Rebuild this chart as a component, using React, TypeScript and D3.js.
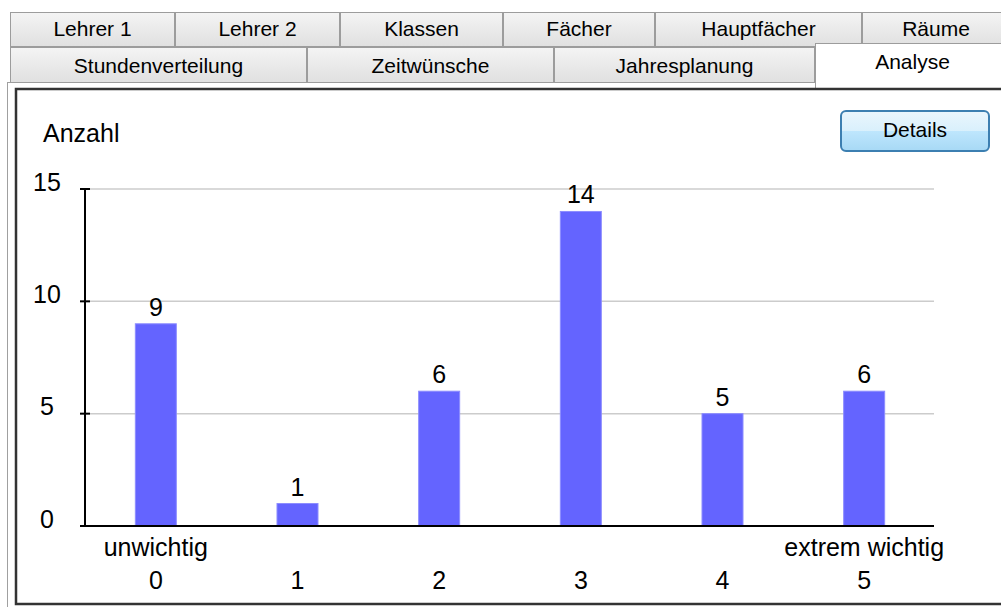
import * as d3 from 'd3'
import { useEffect, useRef } from "react";

// chart data
const ratings = ["0", "1", "2", "3", "4", "5"];
const ratingNames = ["unwichtig", "", "", "", "", "extrem wichtig"];
const counts = [9, 1, 6, 14, 5, 6];
const yTicks = [0, 5, 10, 15];

// window chrome
const tabsTop = ["Lehrer 1", "Lehrer 2", "Klassen", "Fächer", "Hauptfächer", "Räume"];
const tabsBottom = ["Stundenverteilung", "Zeitwünsche", "Jahresplanung", "Analyse"];
const topEdges = [10, 175, 340, 503, 655, 862, 1010];
const bottomEdges = [10, 307, 554, 815, 1010];

const FONT = "'Liberation Sans', Arial, sans-serif";

const App = () => {
  const svgRef = useRef(null);

  useEffect(() => {
    const svg = d3.select(svgRef.current);
    svg.selectAll('*').remove();

    const defs = svg.append('defs');
    const tabGrad = defs.append('linearGradient').attr('id', 'tabGrad').attr('x1', 0).attr('y1', 0).attr('x2', 0).attr('y2', 1);
    tabGrad.append('stop').attr('offset', '0%').attr('stop-color', '#f4f4f4');
    tabGrad.append('stop').attr('offset', '100%').attr('stop-color', '#e0e0e0');
    const btnGrad = defs.append('linearGradient').attr('id', 'btnGrad').attr('x1', 0).attr('y1', 0).attr('x2', 0).attr('y2', 1);
    btnGrad.append('stop').attr('offset', '0%').attr('stop-color', '#eaf6fd');
    btnGrad.append('stop').attr('offset', '50%').attr('stop-color', '#d9f0fc');
    btnGrad.append('stop').attr('offset', '51%').attr('stop-color', '#bee6fd');
    btnGrad.append('stop').attr('offset', '100%').attr('stop-color', '#a7d9f5');

    // background
    svg.append('rect').attr('width', 1001).attr('height', 607).attr('fill', '#ffffff');

    // panel (outer grey frame)
    svg.append('rect').attr('x', 7.5).attr('y', 82.5).attr('width', 1010).attr('height', 540)
      .attr('fill', '#ffffff').attr('stroke', '#a0a0a0');

    const tabText = (tx, ty, t) =>
      svg.append('text').attr('x', tx).attr('y', ty).attr('text-anchor', 'middle')
        .attr('dominant-baseline', 'middle').attr('font-family', FONT).attr('font-size', 21).attr('fill', '#000')
        .text(t);

    // tab rows
    tabsTop.forEach((t, i) => {
      const x0 = topEdges[i], x1 = topEdges[i + 1];
      svg.append('rect').attr('x', x0 + 0.5).attr('y', 12.5).attr('width', x1 - x0 - 1).attr('height', 34)
        .attr('fill', 'url(#tabGrad)').attr('stroke', '#9c9c9c');
      tabText((x0 + x1) / 2, 30, t);
    });
    tabsBottom.forEach((t, i) => {
      const x0 = bottomEdges[i], x1 = bottomEdges[i + 1];
      const selected = i === tabsBottom.length - 1;
      if (selected) {
        svg.append('rect').attr('x', x0 + 0.5).attr('y', 43.5).attr('width', x1 - x0).attr('height', 60)
          .attr('fill', '#ffffff').attr('stroke', '#9c9c9c');
        tabText((x0 + x1) / 2, 63, t);
      } else {
        svg.append('rect').attr('x', x0 + 0.5).attr('y', 47.5).attr('width', x1 - x0 - 1).attr('height', 35)
          .attr('fill', 'url(#tabGrad)').attr('stroke', '#9c9c9c');
        tabText((x0 + x1) / 2, 67, t);
      }
    });

    // inner sunken frame
    svg.append('rect').attr('x', 16).attr('y', 89).attr('width', 1000).attr('height', 515)
      .attr('fill', '#ffffff').attr('stroke', '#333333').attr('stroke-width', 2.5);

    // scales
    const x = d3.scaleBand().domain(ratings).range([85, 935]);
    const y = d3.scaleLinear().domain([0, 15]).range([526, 189]);
    const barW = 41;
    const cx = (i) => x(ratings[i]) + x.bandwidth() / 2;

    // grid
    svg.append('g').selectAll('line').data(yTicks.filter(d => d > 0)).enter().append('line')
      .attr('x1', 90).attr('x2', 934).attr('y1', d => y(d)).attr('y2', d => y(d))
      .attr('stroke', '#cccccc').attr('stroke-width', 1.5);

    // bars
    svg.append('g').selectAll('rect').data(counts).enter().append('rect')
      .attr('x', (d, i) => cx(i) - barW / 2)
      .attr('y', d => y(d))
      .attr('width', barW)
      .attr('height', d => y(0) - y(d))
      .attr('fill', '#6464ff')
      .attr('stroke', '#8c8cff').attr('stroke-width', 1);

    // value labels
    svg.append('g').selectAll('text').data(counts).enter().append('text')
      .attr('x', (d, i) => cx(i))
      .attr('y', d => y(d) - 8)
      .attr('text-anchor', 'middle').attr('font-family', FONT).attr('font-size', 25).attr('fill', '#000')
      .text(d => d);

    // axes
    svg.append('line').attr('x1', 85).attr('x2', 85).attr('y1', 189).attr('y2', 527)
      .attr('stroke', '#000').attr('stroke-width', 2);
    svg.append('line').attr('x1', 80).attr('x2', 934).attr('y1', 526).attr('y2', 526)
      .attr('stroke', '#000').attr('stroke-width', 2);
    svg.append('g').selectAll('line').data(yTicks).enter().append('line')
      .attr('x1', 80).attr('x2', 90).attr('y1', d => y(d)).attr('y2', d => y(d))
      .attr('stroke', '#000').attr('stroke-width', 2);
    svg.append('g').selectAll('text').data(yTicks).enter().append('text')
      .attr('x', 47).attr('y', d => y(d) - 5)
      .attr('text-anchor', 'middle').attr('dominant-baseline', 'middle')
      .attr('font-family', FONT).attr('font-size', 25).attr('fill', '#000')
      .text(d => d);

    // x labels
    svg.append('g').selectAll('text').data(ratings).enter().append('text')
      .attr('x', (d, i) => cx(i)).attr('y', 582)
      .attr('text-anchor', 'middle').attr('dominant-baseline', 'middle')
      .attr('font-family', FONT).attr('font-size', 25).attr('fill', '#000')
      .text(d => d);
    svg.append('g').selectAll('text').data(ratingNames).enter().append('text')
      .attr('x', (d, i) => cx(i)).attr('y', 549)
      .attr('text-anchor', 'middle').attr('dominant-baseline', 'middle')
      .attr('font-family', FONT).attr('font-size', 25).attr('fill', '#000')
      .text(d => d);

    // axis title
    svg.append('text').attr('x', 43).attr('y', 135).attr('dominant-baseline', 'middle')
      .attr('font-family', FONT).attr('font-size', 25).attr('fill', '#000').text('Anzahl');

    // Details button
    svg.append('rect').attr('x', 841).attr('y', 111).attr('width', 148).attr('height', 40).attr('rx', 5)
      .attr('fill', 'url(#btnGrad)').attr('stroke', '#3c7fb1').attr('stroke-width', 2);
    svg.append('text').attr('x', 915).attr('y', 131).attr('text-anchor', 'middle').attr('dominant-baseline', 'middle')
      .attr('font-family', FONT).attr('font-size', 21).attr('fill', '#000').text('Details');
  }, []);

  return (
    <div style={{ position: 'fixed', left: 0, top: 0 }}>
      <svg ref={svgRef} width={1001} height={607} style={{ display: 'block' }}></svg>
    </div>
  );
};

export default App;
